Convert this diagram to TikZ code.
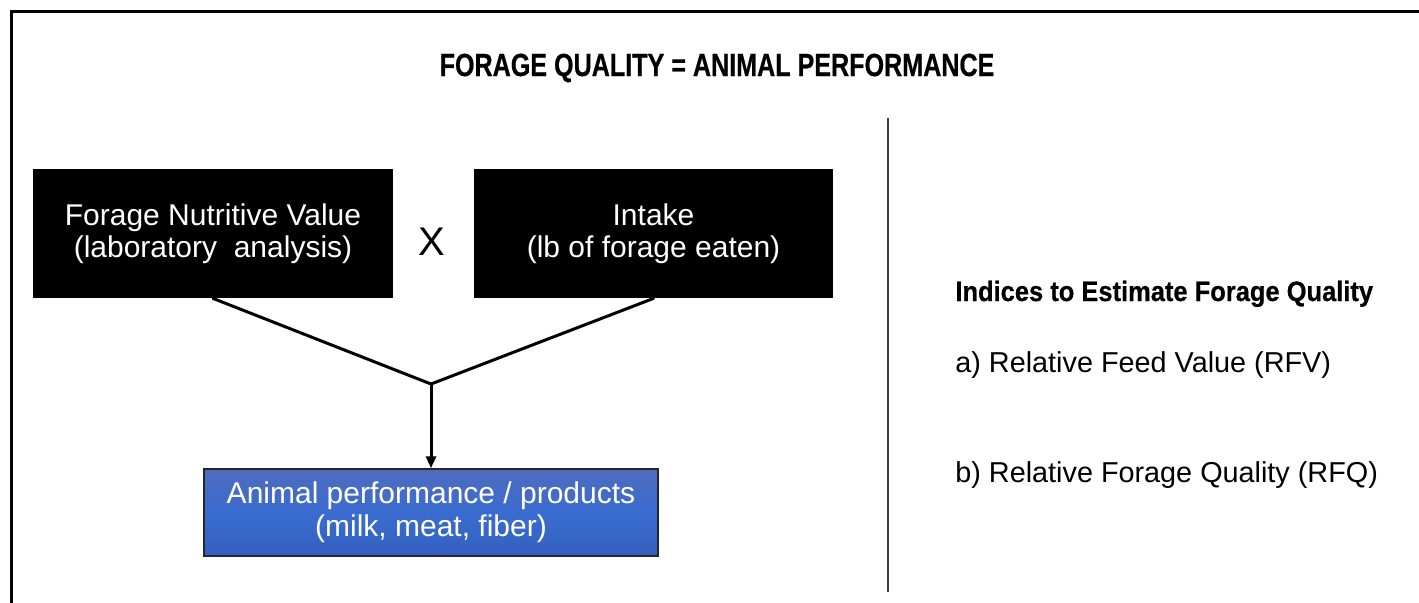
\documentclass[tikz,border=0pt]{standalone}
\usepackage{fontspec}
\setmainfont{Liberation Sans}
\usetikzlibrary{arrows.meta}
\definecolor{boxblueT}{RGB}{78,108,190}
\definecolor{boxblueM}{RGB}{58,108,208}
\definecolor{boxblueB}{RGB}{50,96,190}
\definecolor{divgray}{RGB}{60,60,60}
\tikzset{
  blackbox/.style={fill=black, text=white, inner sep=0pt, align=center,
    font=\fontsize{15}{15.8}\selectfont},
  bluebox/.style={draw=black!85, line width=0.75pt, top color=boxblueT, bottom color=boxblueB,
    middle color=boxblueM, text=white, inner sep=0pt, align=center,
    font=\fontsize{15}{16.5}\selectfont},
  conn/.style={line width=1.5pt, line cap=round, line join=miter},
  plain/.style={inner sep=0pt, font=\fontsize{14.4}{16}\selectfont},
  heavy/.style={inner sep=0pt, font=\bfseries\addfontfeature{FakeBold=0.6}},
}
\begin{document}
\begin{tikzpicture}[x=0.5pt,y=-0.5pt]
\useasboundingbox (0,0) rectangle (1419,602);
% frame
\coordinate (fbl) at (11,610);
\coordinate (ftl) at (11,11);
\coordinate (ftr) at (1430,11);
\draw[line width=1.5pt] (fbl) -- (ftl) -- (ftr);
% title
\node[heavy, anchor=base] (title) at (717,76)
  {\fontsize{16}{16}\selectfont\scalebox{0.785}[1]{FORAGE QUALITY = ANIMAL PERFORMANCE}};
% boxes
\node[blackbox, minimum width=180pt, minimum height=64.5pt] (nv) at (213,233.5)
  {Forage Nutritive Value\\(laboratory\ \ analysis)};
\node[blackbox, minimum width=179.5pt, minimum height=64.5pt] (in) at (653.5,233.5)
  {Intake\\(lb of forage eaten)};
\node[inner sep=0pt, font=\fontsize{20}{20}\selectfont] (times) at (432,242) {X};
\coordinate (j) at (431,384);
\node[bluebox, minimum width=227pt, minimum height=43.5pt] (ap) at (431,512.5)
  {Animal performance / products\\(milk, meat, fiber)};
\draw[conn] (nv.south) -- (j) -- (in.south);
\draw[conn, -{Triangle[length=6pt,width=5pt]}] (j) -- (ap.north);
% divider
\coordinate (dtop) at (888,118);
\coordinate (dbot) at (888,592);
\draw[divgray, line width=1pt] (dtop) -- (dbot);
% right text
\node[heavy, anchor=base west] (idx) at (955,301)
  {\fontsize{14}{14}\selectfont\scalebox{0.91}[1]{Indices to Estimate Forage Quality}};
\node[plain, anchor=base west] (rfv) at (955,372) {a) Relative Feed Value (RFV)};
\node[plain, anchor=base west] (rfq) at (955,482) {b) Relative Forage Quality (RFQ)};
\end{tikzpicture}
\end{document}
